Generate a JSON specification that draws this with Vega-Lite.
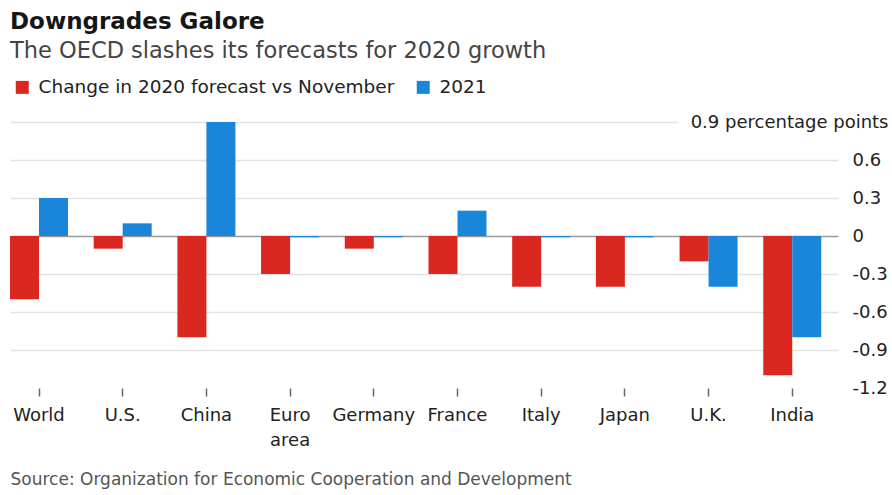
{
  "$schema": "https://vega.github.io/schema/vega-lite/v6.json",
  "autosize": "none",
  "width": 828,
  "height": 266,
  "padding": {"left": 10, "top": 122, "right": 54, "bottom": 107},
  "background": "white",
  "title": {
    "text": "Downgrades Galore",
    "subtitle": "The OECD slashes its forecasts for 2020 growth",
    "anchor": "start",
    "frame": "group",
    "font": "DejaVu Sans",
    "fontSize": 23,
    "fontWeight": "bold",
    "color": "#161616",
    "subtitleFont": "DejaVu Sans",
    "subtitleFontSize": 22.5,
    "subtitleColor": "#444444",
    "subtitlePadding": 6,
    "offset": 16
  },
  "data": {
    "values": [
      {"country": "World", "series": "Change in 2020 forecast vs November", "value": -0.5},
      {"country": "World", "series": "2021", "value": 0.3},
      {"country": "U.S.", "series": "Change in 2020 forecast vs November", "value": -0.1},
      {"country": "U.S.", "series": "2021", "value": 0.1},
      {"country": "China", "series": "Change in 2020 forecast vs November", "value": -0.8},
      {"country": "China", "series": "2021", "value": 0.9},
      {"country": "Euro area", "series": "Change in 2020 forecast vs November", "value": -0.3},
      {"country": "Euro area", "series": "2021", "value": -0.01},
      {"country": "Germany", "series": "Change in 2020 forecast vs November", "value": -0.1},
      {"country": "Germany", "series": "2021", "value": -0.01},
      {"country": "France", "series": "Change in 2020 forecast vs November", "value": -0.3},
      {"country": "France", "series": "2021", "value": 0.2},
      {"country": "Italy", "series": "Change in 2020 forecast vs November", "value": -0.4},
      {"country": "Italy", "series": "2021", "value": -0.01},
      {"country": "Japan", "series": "Change in 2020 forecast vs November", "value": -0.4},
      {"country": "Japan", "series": "2021", "value": -0.01},
      {"country": "U.K.", "series": "Change in 2020 forecast vs November", "value": -0.2},
      {"country": "U.K.", "series": "2021", "value": -0.4},
      {"country": "India", "series": "Change in 2020 forecast vs November", "value": -1.1},
      {"country": "India", "series": "2021", "value": -0.8}
    ]
  },
  "mark": {"type": "bar"},
  "encoding": {
    "x": {
      "field": "country",
      "type": "nominal",
      "sort": ["World", "U.S.", "China", "Euro area", "Germany", "France", "Italy", "Japan", "U.K.", "India"],
      "scale": {"paddingInner": 0.307, "paddingOuter": 0.1, "align": 0},
      "axis": {
        "orient": "bottom",
        "domain": false,
        "ticks": true,
        "tickSize": 8,
        "tickWidth": 1.5,
        "tickColor": "#666666",
        "labelAngle": 0,
        "labelPadding": 10,
        "labelFont": "DejaVu Sans",
        "labelFontSize": 18,
        "labelColor": "#222222",
        "labelLineHeight": 25,
        "labelLimit": 300,
        "labelExpr": "datum.value == 'Euro area' ? ['Euro', 'area'] : datum.value",
        "title": "Source: Organization for Economic Cooperation and Development",
        "titleFont": "DejaVu Sans",
        "titleFontSize": 17,
        "titleFontWeight": "normal",
        "titleColor": "#555555",
        "titleAnchor": "start",
        "titleAlign": "left",
        "titlePadding": 22,
        "titleLimit": 900
      }
    },
    "xOffset": {
      "field": "series",
      "type": "nominal",
      "sort": ["Change in 2020 forecast vs November", "2021"],
      "scale": {"paddingInner": 0, "paddingOuter": 0}
    },
    "y": {
      "field": "value",
      "type": "quantitative",
      "scale": {"domain": [-1.2, 0.9], "nice": false, "zero": false},
      "axis": {
        "orient": "right",
        "title": null,
        "values": [0.9, 0.6, 0.3, 0, -0.3, -0.6, -0.9, -1.2],
        "domain": false,
        "ticks": false,
        "grid": true,
        "gridColor": {"condition": {"test": "datum.value == 0", "value": "#9a9a9a"}, "value": "#e2e2e2"},
        "gridWidth": 1.5,
        "gridDash": {"condition": {"test": "datum.value == 0.9", "value": [0, 160, 700, 0]}, "value": []},
        "gridOpacity": {"condition": {"test": "datum.value == -1.2", "value": 0}, "value": 1},
        "labelExpr": "datum.value == 0.9 ? '0.9 percentage points' : toString(datum.value)",
        "labelAlign": {"condition": {"test": "datum.value == 0.9", "value": "right"}, "value": "left"},
        "labelPadding": {"condition": {"test": "datum.value == 0.9", "value": 50}, "value": 14},
        "labelBaseline": "middle",
        "labelFont": "DejaVu Sans",
        "labelFontSize": 18,
        "labelColor": "#222222",
        "labelLimit": 400,
        "labelOverlap": false,
        "labelBound": false,
        "labelFlush": false
      }
    },
    "color": {
      "field": "series",
      "type": "nominal",
      "scale": {"domain": ["Change in 2020 forecast vs November", "2021"], "range": ["#da2820", "#1a86d9"]},
      "legend": {
        "title": null,
        "orient": "none",
        "legendX": 3,
        "legendY": -44,
        "direction": "horizontal",
        "symbolType": "square",
        "symbolSize": 169,
        "symbolStrokeWidth": 0,
        "labelFont": "DejaVu Sans",
        "labelFontSize": 18.5,
        "labelColor": "#222222",
        "labelOffset": 7,
        "labelLimit": 600,
        "columnPadding": 19
      }
    }
  },
  "config": {
    "view": {"stroke": null}
  }
}
